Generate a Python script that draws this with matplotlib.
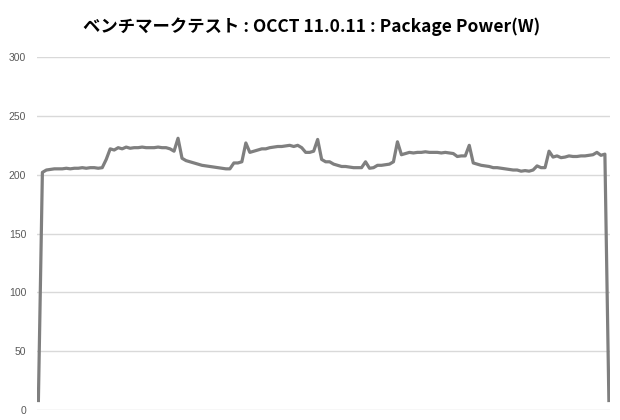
import matplotlib
matplotlib.use('Agg')
import matplotlib.pyplot as plt
import numpy as np

plt.rcParams['font.family'] = ['Noto Sans CJK JP', 'DejaVu Sans']

title = 'ベンチマークテスト : OCCT 11.0.11 : Package Power(W)'
y_ticks = [0, 50, 100, 150, 200, 250, 300]

# package power (W), one sample per reading
power = [
    8, 202, 204, 204.5, 205, 205, 205, 205.5, 205, 205.5,
    205.5, 206, 205.5, 206, 206, 205.5, 206, 213, 222, 221,
    223, 222, 223.5, 222.5, 223, 223, 223.5, 223, 223, 223,
    223.5, 223, 223, 222, 220, 231, 214, 212, 211, 210,
    209, 208, 207.5, 207, 206.5, 206, 205.5, 205, 205, 210,
    210, 211, 227, 219, 220, 221, 222, 222, 223, 223.5,
    224, 224, 224.5, 225, 224, 225, 223, 219, 219, 220,
    230, 213, 211, 211, 209, 208, 207, 207, 206.5, 206,
    206, 206, 211, 205.5, 206, 208, 208, 208.5, 209, 211,
    228, 217, 218, 219, 218.5, 219, 219, 219.5, 219, 219,
    219, 218.5, 219, 218.5, 218, 215.5, 216, 216, 225, 210,
    209, 208, 207.5, 207, 206, 206, 205.5, 205, 204.5, 204,
    204, 203, 203.5, 203, 204, 207.5, 206, 206, 220, 215,
    216, 214.5, 215, 216, 215.5, 215.5, 216, 216, 216.5, 217,
    219, 216.5, 217.5, 8,
]

fig = plt.figure(figsize=(6.2, 4.2), dpi=100)
ax = fig.add_axes([0.06, 0.024, 0.924, 0.84])

x = np.arange(len(power))
ax.plot(x, power, color='#7f7f7f', linewidth=2.3, solid_joinstyle='round')

ax.set_xlim(-0.3, len(power) - 0.7)
ax.set_ylim(0, 300)
ax.set_yticks(y_ticks)
ax.set_xticks([])
ax.tick_params(axis='y', length=0, pad=8, labelsize=7.5, labelcolor='#595959')
for lab in ax.get_yticklabels():
    lab.set_family(['Liberation Sans'])
ax.grid(axis='y', color='#d9d9d9', linewidth=1)
ax.set_axisbelow(True)
for s in ax.spines.values():
    s.set_visible(False)

fig.text(0.502, 0.937, title, ha='center', va='center', fontsize=12.5, fontweight='bold', color='#000000')

fig.savefig('out.png', dpi=100)
